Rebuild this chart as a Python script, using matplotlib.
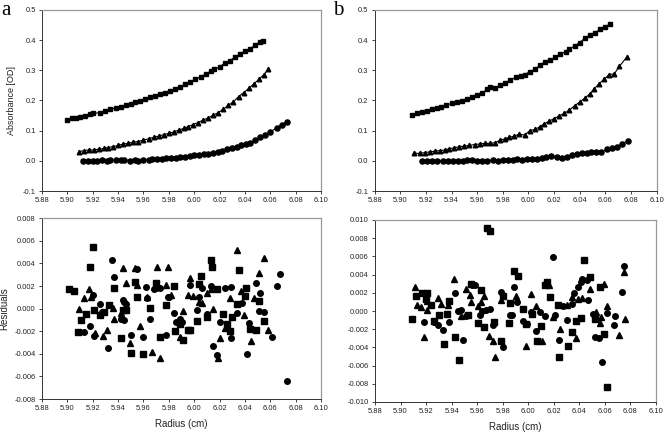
import matplotlib
matplotlib.use("Agg")
import matplotlib.pyplot as plt

# ---------------- Panel a : absorbance ----------------
a_sq_x = [5.900, 5.904, 5.907, 5.910, 5.914, 5.918, 5.920, 5.926, 5.930, 5.934, 5.938, 5.942, 5.946, 5.950,
          5.953, 5.957, 5.961, 5.965, 5.969, 5.973, 5.977, 5.981, 5.985, 5.989, 5.993, 5.997, 6.001, 6.005,
          6.009, 6.013, 6.016, 6.020, 6.024, 6.028, 6.032, 6.036, 6.040, 6.044, 6.048, 6.052, 6.0545]
a_sq_y = [0.135, 0.141, 0.141, 0.144, 0.150, 0.155, 0.157, 0.160, 0.165, 0.171, 0.175, 0.180, 0.184, 0.188,
          0.195, 0.199, 0.204, 0.210, 0.215, 0.220, 0.226, 0.233, 0.239, 0.246, 0.254, 0.260, 0.270, 0.279,
          0.288, 0.297, 0.303, 0.312, 0.323, 0.332, 0.343, 0.354, 0.364, 0.371, 0.384, 0.395, 0.398]

a_tr_x = [5.909, 5.913, 5.917, 5.921, 5.925, 5.929, 5.932, 5.936, 5.940, 5.944, 5.948, 5.952, 5.956, 5.960,
          5.964, 5.968, 5.972, 5.976, 5.980, 5.984, 5.988, 5.992, 5.995, 5.999, 6.003, 6.007, 6.011, 6.015,
          6.019, 6.023, 6.027, 6.031, 6.035, 6.039, 6.043, 6.047, 6.051, 6.055, 6.0585]
a_tr_y = [0.030, 0.034, 0.036, 0.036, 0.039, 0.041, 0.044, 0.047, 0.051, 0.056, 0.058, 0.062, 0.064, 0.069,
          0.073, 0.078, 0.082, 0.087, 0.091, 0.096, 0.102, 0.108, 0.113, 0.120, 0.127, 0.135, 0.142, 0.151,
          0.160, 0.171, 0.184, 0.196, 0.213, 0.226, 0.240, 0.255, 0.270, 0.286, 0.304]

a_ci_x = [5.912, 5.916, 5.920, 5.923, 5.927, 5.931, 5.934, 5.938, 5.942, 5.945, 5.949, 5.953, 5.956, 5.960,
          5.964, 5.967, 5.971, 5.975, 5.978, 5.982, 5.986, 5.989, 5.993, 5.997, 6.000, 6.004, 6.008, 6.011,
          6.015, 6.019, 6.022, 6.026, 6.030, 6.034, 6.037, 6.041, 6.044, 6.048, 6.052, 6.056, 6.060, 6.065,
          6.069, 6.073]
a_ci_y = [0.000, 0.001, 0.000, 0.001, 0.002, 0.000, 0.004, 0.002, 0.002, 0.002, 0.001, 0.004, 0.001, 0.003,
          0.004, 0.006, 0.006, 0.007, 0.009, 0.009, 0.010, 0.012, 0.014, 0.016, 0.018, 0.019, 0.022, 0.023,
          0.025, 0.029, 0.034, 0.038, 0.043, 0.047, 0.051, 0.056, 0.060, 0.069, 0.078, 0.085, 0.096, 0.109,
          0.119, 0.129]

# ---------------- Panel a : residuals ----------------
ra_sq_x = [5.901, 5.905, 5.908, 5.911, 5.915, 5.918, 5.920, 5.921, 5.926, 5.929, 5.933, 5.937, 5.942, 5.944,
           5.946, 5.950, 5.953, 5.955, 5.960, 5.965, 5.970, 5.973, 5.978, 5.984, 5.985, 5.989, 5.991, 5.995,
           5.997, 6.002, 6.004, 6.005, 6.010, 6.013, 6.014, 6.018, 6.023, 6.026, 6.028, 6.030, 6.034, 6.035,
           6.040, 6.041, 6.044, 6.049, 6.051, 6.055]
ra_sq_y = [0.0017, 0.0016, -0.0021, -0.0010, -0.0005, 0.0037, 0.0055, -0.0001, -0.0006, -0.0003, 0.0003,
           0.0018, -0.0026, -0.0001, -0.0001, -0.0039, 0.0024, 0.0010, -0.0040, 0.0001, 0.0023, -0.0025,
           0.0003, 0.0020, -0.0020, -0.0014, -0.0028, -0.0019, -0.0019, -0.0011, 0.0022, 0.0029, -0.0007,
           0.0043, 0.0037, 0.0017, -0.0005, -0.0014, -0.0020, -0.0007, 0.0004, 0.0034, 0.0011, 0.0018,
           -0.0018, -0.0019, 0.0007, -0.0011]

ra_tr_x = [5.909, 5.913, 5.917, 5.919, 5.922, 5.928, 5.931, 5.936, 5.937, 5.942, 5.944, 5.946, 5.949, 5.953,
           5.955, 5.957, 5.963, 5.967, 5.971, 5.973, 5.978, 5.979, 5.982, 5.989, 5.991, 5.995, 5.997, 5.999,
           6.004, 6.006, 6.010, 6.013, 6.015, 6.019, 6.020, 6.024, 6.028, 6.034, 6.037, 6.039, 6.045, 6.047,
           6.051, 6.055, 6.058]
ra_tr_y = [0.0000, 0.0009, 0.0017, 0.0010, -0.0022, -0.0024, -0.0019, 0.0001, -0.0009, -0.0004, 0.0036,
           0.0023, -0.0030, 0.0036, 0.0021, -0.0015, 0.0010, -0.0038, 0.0037, -0.0044, 0.0021, 0.0037,
           0.0012, -0.0025, -0.0002, 0.0012, 0.0027, 0.0011, 0.0006, 0.0005, 0.0014, 0.0017, 0.0000,
           -0.0044, -0.0026, -0.0017, 0.0009, 0.0052, 0.0016, -0.0006, -0.0029, 0.0009, 0.0032, 0.0045,
           -0.0019]

ra_ci_x = [5.913, 5.918, 5.920, 5.921, 5.926, 5.927, 5.929, 5.932, 5.935, 5.937, 5.942, 5.944, 5.945, 5.946,
           5.945, 5.950, 5.955, 5.960, 5.962, 5.963, 5.965, 5.968, 5.970, 5.973, 5.978, 5.979, 5.980, 5.984,
           5.986, 5.989, 5.990, 5.997, 6.002, 6.004, 6.006, 6.010, 6.013, 6.015, 6.018, 6.020, 6.024, 6.029,
           6.029, 6.034, 6.038, 6.043, 6.042, 6.049, 6.051, 6.052, 6.055, 6.061, 6.065, 6.068, 6.073]
ra_ci_y = [-0.0021, -0.0015, 0.0012, -0.0024, 0.0004, -0.0003, -0.0003, -0.0035, 0.0043, 0.0028, -0.0009,
           0.0008, 0.0006, 0.0004, -0.0010, -0.0023, 0.0035, -0.0025, 0.0019, 0.0009, -0.0009, 0.0017,
           0.0018, 0.0018, -0.0023, 0.0010, 0.0010, -0.0004, -0.0012, -0.0009, -0.0012, 0.0021, -0.0001,
           0.0010, 0.0018, -0.0005, 0.0020, -0.0033, -0.0041, -0.0012, 0.0018, 0.0019, -0.0026, -0.0004,
           0.0005, -0.0013, -0.0040, 0.0023, -0.0002, 0.0014, -0.0003, -0.0025, 0.0020, 0.0031, -0.0064]

# ---------------- Panel b : absorbance ----------------
b_sq_x = [5.909, 5.913, 5.917, 5.921, 5.925, 5.929, 5.932, 5.936, 5.940, 5.944, 5.948, 5.952, 5.956, 5.960,
          5.964, 5.968, 5.970, 5.974, 5.978, 5.982, 5.986, 5.990, 5.994, 5.997, 6.001, 6.005, 6.009, 6.013,
          6.017, 6.021, 6.025, 6.029, 6.032, 6.036, 6.040, 6.044, 6.048, 6.052, 6.056, 6.060, 6.064]
b_sq_y = [0.152, 0.158, 0.162, 0.166, 0.171, 0.174, 0.177, 0.184, 0.191, 0.194, 0.199, 0.206, 0.213, 0.218,
          0.226, 0.237, 0.246, 0.240, 0.250, 0.259, 0.268, 0.277, 0.281, 0.285, 0.296, 0.303, 0.317, 0.328,
          0.334, 0.343, 0.354, 0.362, 0.370, 0.381, 0.392, 0.406, 0.418, 0.425, 0.436, 0.445, 0.454]

b_tr_x = [5.911, 5.915, 5.919, 5.923, 5.927, 5.931, 5.935, 5.938, 5.942, 5.946, 5.950, 5.954, 5.958, 5.962,
          5.966, 5.970, 5.974, 5.978, 5.982, 5.985, 5.989, 5.993, 5.997, 6.001, 6.005, 6.009, 6.012, 6.016,
          6.020, 6.024, 6.028, 6.032, 6.036, 6.040, 6.044, 6.048, 6.051, 6.055, 6.059, 6.063, 6.067, 6.071,
          6.077]
b_tr_y = [0.025, 0.025, 0.027, 0.030, 0.032, 0.034, 0.036, 0.040, 0.043, 0.047, 0.049, 0.051, 0.054, 0.056,
          0.058, 0.058, 0.060, 0.069, 0.073, 0.078, 0.082, 0.089, 0.085, 0.100, 0.104, 0.113, 0.122, 0.131,
          0.140, 0.149, 0.157, 0.169, 0.182, 0.195, 0.208, 0.222, 0.237, 0.255, 0.270, 0.286, 0.288, 0.313,
          0.345]

b_ci_x = [5.917, 5.921, 5.925, 5.929, 5.933, 5.937, 5.941, 5.945, 5.949, 5.952, 5.956, 5.960, 5.964, 5.968,
          5.972, 5.976, 5.980, 5.984, 5.988, 5.991, 5.995, 5.999, 6.003, 6.007, 6.011, 6.014, 6.018, 6.022,
          6.026, 6.030, 6.034, 6.038, 6.042, 6.046, 6.049, 6.053, 6.057, 6.061, 6.065, 6.069, 6.073, 6.078]
b_ci_y = [0.000, 0.001, -0.001, -0.001, 0.000, 0.001, 0.000, 0.001, -0.002, 0.002, 0.003, 0.001, 0.001, 0.001,
          0.002, 0.000, 0.003, 0.002, 0.003, 0.005, 0.003, 0.005, 0.006, 0.007, 0.009, 0.013, 0.016, 0.012,
          0.011, 0.013, 0.018, 0.023, 0.025, 0.027, 0.029, 0.029, 0.029, 0.038, 0.044, 0.047, 0.056, 0.067]

# ---------------- Panel b : residuals ----------------
rb_sq_x = [5.909, 5.912, 5.917, 5.920, 5.921, 5.924, 5.926, 5.930, 5.934, 5.936, 5.938, 5.943, 5.946, 5.953,
           5.955, 5.961, 5.963, 5.965, 5.968, 5.970, 5.973, 5.979, 5.980, 5.985, 5.986, 5.989, 5.992, 5.996,
           5.998, 6.003, 6.007, 6.010, 6.013, 6.015, 6.017, 6.023, 6.024, 6.031, 6.034, 6.037, 6.041, 6.044,
           6.048, 6.052, 6.056, 6.059, 6.062]
rb_sq_y = [-0.0009, 0.0016, 0.0020, 0.0013, 0.0020, 0.0007, -0.0011, -0.0004, -0.0036, -0.0003, 0.0011,
           -0.0029, -0.0054, -0.0004, 0.0030, -0.0013, 0.0023, -0.0018, 0.0091, 0.0088, -0.0012, -0.0033,
           0.0016, -0.0013, 0.0009, 0.0044, 0.0039, 0.0002, -0.0014, -0.0003, -0.0033, -0.0016, 0.0029,
           0.0032, 0.0015, 0.0007, -0.0051, -0.0039, -0.0023, -0.0011, -0.0008, 0.0056, 0.0037, -0.0009,
           0.0026, -0.0025, -0.0083]

rb_tr_x = [5.911, 5.913, 5.916, 5.918, 5.921, 5.921, 5.929, 5.932, 5.937, 5.942, 5.947, 5.951, 5.954, 5.955,
           5.961, 5.963, 5.965, 5.969, 5.972, 5.974, 5.979, 5.990, 5.998, 6.002, 6.006, 6.011, 6.016, 6.019,
           6.025, 6.030, 6.034, 6.037, 6.039, 6.042, 6.048, 6.053, 6.056, 6.057, 6.059, 6.062, 6.071, 6.075,
           6.076]
rb_tr_y = [0.0026, 0.0007, 0.0004, -0.0029, 0.0011, 0.0001, 0.0014, 0.0008, 0.0007, 0.0035, -0.0006, 0.0024,
           0.0018, 0.0010, 0.0005, 0.0010, 0.0017, -0.0028, -0.0033, -0.0051, 0.0012, 0.0017, -0.0038,
           0.0019, 0.0005, -0.0033, 0.0029, -0.0007, -0.0020, 0.0007, 0.0015, -0.0030, 0.0013, 0.0014,
           0.0024, -0.0001, -0.0013, -0.0007, 0.0030, 0.0006, -0.0026, 0.0043, -0.0009]

rb_ci_x = [5.918, 5.926, 5.929, 5.933, 5.938, 5.943, 5.945, 5.947, 5.949, 5.951, 5.956, 5.958, 5.962, 5.964,
           5.967, 5.970, 5.972, 5.979, 5.980, 5.986, 5.987, 5.989, 5.991, 5.996, 5.999, 6.002, 6.006, 6.009,
           6.013, 6.019, 6.021, 6.024, 6.027, 6.030, 6.034, 6.036, 6.039, 6.041, 6.042, 6.046, 6.047, 6.051,
           6.052, 6.055, 6.058, 6.062, 6.067, 6.068, 6.073, 6.075]
rb_ci_y = [-0.0012, -0.0012, -0.0015, -0.0021, -0.0012, 0.0020, 0.0000, 0.0001, -0.0032, -0.0005, 0.0029,
           0.0029, -0.0004, 0.0000, 0.0001, 0.0002, -0.0015, 0.0021, -0.0040, -0.0004, -0.0004, 0.0026,
           0.0010, -0.0011, -0.0014, -0.0001, -0.0022, -0.0001, -0.0006, 0.0059, -0.0004, -0.0032, 0.0005,
           -0.0010, 0.0008, 0.0020, 0.0026, 0.0032, 0.0035, 0.0034, 0.0012, -0.0003, -0.0029, -0.0030,
           -0.0056, -0.0002, -0.0015, -0.0006, 0.0021, 0.0049]

x_ticks = [5.88, 5.90, 5.92, 5.94, 5.96, 5.98, 6.00, 6.02, 6.04, 6.06, 6.08, 6.10]
abs_ticks = [-0.1, 0.0, 0.1, 0.2, 0.3, 0.4, 0.5]
res_a_ticks = [-0.008, -0.006, -0.004, -0.002, 0.000, 0.002, 0.004, 0.006, 0.008]
res_b_ticks = [-0.010, -0.008, -0.006, -0.004, -0.002, 0.000, 0.002, 0.004, 0.006, 0.008, 0.010]

plt.rcParams['font.family'] = ['Liberation Sans', 'DejaVu Sans']

fig = plt.figure(figsize=(6.64, 4.33), dpi=100)
W, H = 664.0, 433.0

def mk_ax(l, r, t, b):
    return fig.add_axes([l / W, 1 - b / H, (r - l) / W, (b - t) / H])

ax_a = mk_ax(42, 321, 10, 191)
ax_ra = mk_ax(42, 321, 218.3, 399)
ax_b = mk_ax(374.7, 656.5, 10, 191)
ax_rb = mk_ax(375, 656, 220, 402)

def style(ax, yticks, yfmt):
    ax.set_xlim(5.88, 6.10)
    ax.set_ylim(yticks[0], yticks[-1])
    ax.set_xticks(x_ticks)
    ax.set_xticklabels([f"{v:.2f}" for v in x_ticks])
    ax.set_yticks(yticks)
    ax.set_yticklabels([yfmt.format(v) for v in yticks])
    ax.tick_params(direction='out', length=2.5, width=0.6, labelsize=5.4, pad=2,
                   colors='#222222')
    for s in ['left', 'bottom']:
        ax.spines[s].set_color('#333333')
        ax.spines[s].set_linewidth(0.7)
    for s in ['top', 'right']:
        ax.spines[s].set_color('#999999')
        ax.spines[s].set_linewidth(0.9)

ms_top = 3.3
lw_fit = 0.8
for ax, sq, tr, ci in [
    (ax_a, (a_sq_x, a_sq_y), (a_tr_x, a_tr_y), (a_ci_x, a_ci_y)),
    (ax_b, (b_sq_x, b_sq_y), (b_tr_x, b_tr_y), (b_ci_x, b_ci_y)),
]:
    ax.plot(sq[0], sq[1], color='black', lw=lw_fit, marker='s', ms=ms_top, mec='black', mfc='black')
    ax.plot(tr[0], tr[1], color='black', lw=lw_fit, marker='^', ms=ms_top, mec='black', mfc='black')
    ax.plot(ci[0], ci[1], color='black', lw=lw_fit, marker='o', ms=ms_top + 0.4, mec='black', mfc='black')
    style(ax, abs_ticks, "{:.1f}")

ms_res = 3.7
for ax, sq, tr, ci, yt in [
    (ax_ra, (ra_sq_x, ra_sq_y), (ra_tr_x, ra_tr_y), (ra_ci_x, ra_ci_y), res_a_ticks),
    (ax_rb, (rb_sq_x, rb_sq_y), (rb_tr_x, rb_tr_y), (rb_ci_x, rb_ci_y), res_b_ticks),
]:
    ax.plot(sq[0], sq[1], ls='none', marker='s', ms=ms_res, color='black')
    ax.plot(tr[0], tr[1], ls='none', marker='^', ms=ms_res, color='black')
    ax.plot(ci[0], ci[1], ls='none', marker='o', ms=ms_res + 0.3, color='black')
    style(ax, yt, "{:.3f}")
    ax.set_xlabel("Radius (cm)", fontsize=7, labelpad=5, color='#222222')

ax_a.set_ylabel("Absorbance [OD]", fontsize=6.5, labelpad=5, color='#222222')
ax_ra.set_ylabel("Residuals", fontsize=7, labelpad=4, color='#222222')

fig.text(1 / W, 1 - 1 / H, "a", fontsize=15, family='Liberation Serif', va='top', ha='left')
fig.text(333 / W, 1 - 1 / H, "b", fontsize=15, family='Liberation Serif', va='top', ha='left')

fig.savefig("out.png", dpi=100)
